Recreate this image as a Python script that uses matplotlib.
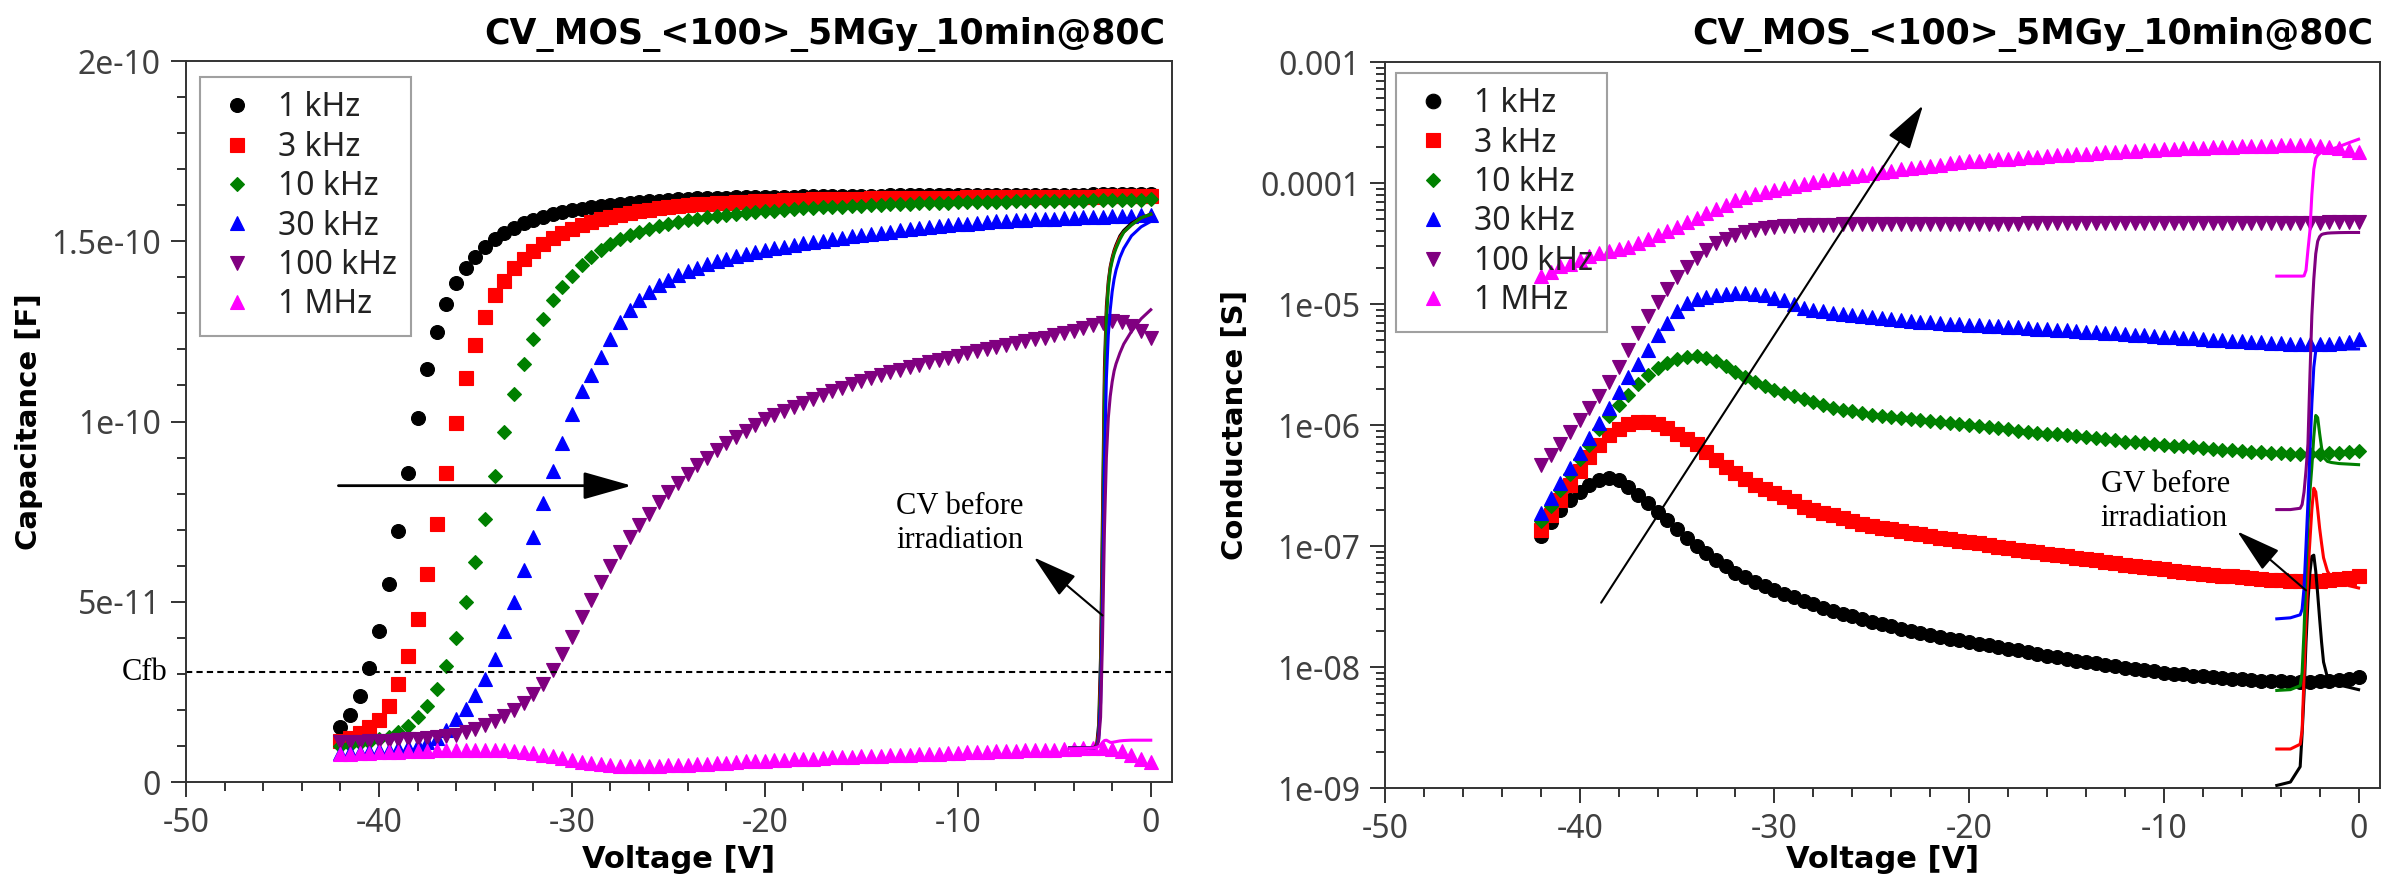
import numpy as np
import matplotlib
matplotlib.use('Agg')
from matplotlib import pyplot as plt
from matplotlib.ticker import MultipleLocator, FuncFormatter, LogLocator, NullFormatter
import matplotlib.transforms as mtransforms

plt.rcParams['axes.unicode_minus'] = False
plt.rcParams['font.family'] = ['Noto Sans', 'DejaVu Sans']

# gate voltage sweep after irradiation (0.5 V steps)
volt = np.arange(-42.0, 0.01, 0.5)
# sweep of the reference curves measured before irradiation
volt_ref = [-4.2, -3.5, -3.0, -2.9, -2.8, -2.7, -2.6, -2.5, -2.4, -2.3,
            -2.2, -2.1, -2.0, -1.9, -1.8, -1.6, -1.4, -1.0, -0.5, 0.0]

freqs = ['1 kHz', '3 kHz', '10 kHz', '30 kHz', '100 kHz', '1 MHz']
colors = ['black', 'red', 'green', 'blue', 'purple', 'magenta']
markers = ['o', 's', 'D', '^', 'v', '^']

title = 'CV_MOS_<100>_5MGy_10min@80C'

# capacitance after irradiation [pF]
cap_1k = [15.2, 18.5, 23.9, 31.5, 41.9, 54.8, 69.7, 85.8, 101.1, 114.5,
          124.8, 132.6, 138.4, 142.5, 145.7, 148.5, 150.7, 152.4, 153.8, 155.0,
          156.0, 156.8, 157.5, 158.1, 158.6, 159.0, 159.4, 159.8, 160.1, 160.4,
          160.7, 160.9, 161.1, 161.3, 161.5, 161.6, 161.8, 161.9, 162.0, 162.1,
          162.1, 162.2, 162.2, 162.3, 162.3, 162.4, 162.4, 162.4, 162.5, 162.5,
          162.5, 162.5, 162.6, 162.6, 162.6, 162.6, 162.6, 162.7, 162.7, 162.7,
          162.7, 162.7, 162.7, 162.7, 162.8, 162.8, 162.8, 162.8, 162.8, 162.8,
          162.8, 162.8, 162.9, 162.9, 162.9, 162.9, 162.9, 162.9, 163.0, 163.0,
          163.0, 163.0, 163.1, 163.1, 163.2]
cap_3k = [11.4, 12.2, 13.6, 15.2, 17.2, 21.2, 27.1, 35.0, 45.2, 57.8,
          71.5, 85.8, 99.5, 112.0, 121.3, 129.1, 135.0, 139.1, 142.5, 145.1,
          147.4, 149.3, 150.9, 152.2, 153.4, 154.4, 155.3, 156.1, 156.8, 157.4,
          157.9, 158.4, 158.8, 159.2, 159.5, 159.8, 160.0, 160.2, 160.4, 160.6,
          160.7, 160.9, 161.0, 161.1, 161.2, 161.3, 161.4, 161.5, 161.5, 161.6,
          161.6, 161.7, 161.7, 161.8, 161.8, 161.9, 161.9, 161.9, 162.0, 162.0,
          162.0, 162.1, 162.1, 162.1, 162.1, 162.2, 162.2, 162.2, 162.2, 162.3,
          162.3, 162.3, 162.3, 162.3, 162.4, 162.4, 162.4, 162.4, 162.4, 162.5,
          162.5, 162.5, 162.5, 162.6, 162.6]
cap_10k = [10.0, 10.3, 10.7, 11.2, 11.8, 12.6, 13.8, 15.6, 18.0, 21.0,
           25.8, 32.2, 40.0, 49.8, 61.0, 73.0, 85.0, 97.0, 107.5, 116.0,
           123.0, 128.5, 133.7, 137.4, 140.5, 143.3, 145.6, 147.6, 149.2, 150.6,
           151.6, 152.6, 153.4, 154.1, 154.7, 155.3, 155.8, 156.2, 156.6, 157.0,
           157.3, 157.6, 157.9, 158.1, 158.3, 158.5, 158.7, 158.9, 159.1, 159.2,
           159.4, 159.5, 159.6, 159.8, 159.9, 160.0, 160.1, 160.2, 160.3, 160.4,
           160.5, 160.5, 160.6, 160.7, 160.8, 160.8, 160.9, 160.9, 161.0, 161.0,
           161.1, 161.1, 161.2, 161.2, 161.2, 161.3, 161.3, 161.3, 161.4, 161.4,
           161.4, 161.5, 161.5, 161.5, 161.6]
cap_30k = [8.0, 8.2, 8.4, 8.6, 8.8, 9.0, 9.3, 9.7, 10.2, 11.0,
           12.2, 14.5, 17.5, 20.2, 24.2, 28.7, 34.2, 42.0, 50.0, 58.8,
           68.0, 77.5, 86.2, 94.0, 102.0, 108.5, 113.0, 117.8, 122.8, 127.5,
           130.8, 133.8, 136.0, 137.8, 139.3, 140.6, 141.7, 142.7, 143.6, 144.4,
           145.2, 145.8, 146.4, 147.0, 147.5, 148.0, 148.5, 149.0, 149.4, 149.8,
           150.2, 150.6, 151.0, 151.4, 151.8, 152.1, 152.4, 152.7, 153.0, 153.3,
           153.6, 153.9, 154.2, 154.5, 154.7, 154.9, 155.1, 155.3, 155.5, 155.7,
           155.9, 156.0, 156.1, 156.2, 156.3, 156.4, 156.5, 156.6, 156.7, 156.8,
           156.9, 157.0, 157.1, 157.2, 157.3]
cap_100k = [11.0, 11.1, 11.2, 11.3, 11.4, 11.5, 11.6, 11.8, 12.0, 12.2,
            12.4, 12.7, 13.1, 13.8, 14.8, 15.8, 16.8, 18.2, 20.0, 22.0,
            24.4, 27.3, 31.2, 35.6, 40.2, 45.7, 50.5, 55.4, 59.8, 63.9,
            68.0, 71.4, 74.4, 77.7, 80.5, 82.9, 85.5, 87.8, 90.0, 92.0,
            93.9, 95.7, 97.4, 99.0, 100.6, 101.8, 103.0, 104.1, 105.2, 106.3,
            107.4, 108.4, 109.4, 110.3, 111.2, 112.0, 112.8, 113.6, 114.4, 115.1,
            115.8, 116.5, 117.1, 117.7, 118.3, 118.9, 119.5, 120.1, 120.6, 121.2,
            121.7, 122.3, 122.8, 123.3, 123.9, 124.5, 125.2, 125.9, 126.7, 127.4,
            127.8, 127.6, 126.5, 125.0, 123.3]
cap_1M = [7.8, 7.9, 8.0, 8.1, 8.2, 8.3, 8.4, 8.5, 8.6, 8.7,
          8.8, 8.9, 9.0, 9.0, 9.0, 9.0, 8.9, 8.8, 8.6, 8.3,
          8.0, 7.6, 7.1, 6.6, 6.1, 5.6, 5.2, 4.9, 4.6, 4.5,
          4.4, 4.4, 4.4, 4.5, 4.6, 4.7, 4.8, 5.0, 5.1, 5.3,
          5.4, 5.5, 5.7, 5.8, 5.9, 6.0, 6.2, 6.3, 6.4, 6.5,
          6.7, 6.8, 6.9, 7.0, 7.1, 7.2, 7.3, 7.4, 7.5, 7.6,
          7.7, 7.8, 7.9, 8.0, 8.1, 8.2, 8.3, 8.4, 8.5, 8.6,
          8.7, 8.8, 8.9, 9.0, 9.0, 9.1, 9.2, 9.3, 9.4, 9.5,
          9.2, 8.6, 7.6, 6.5, 5.6]

# capacitance before irradiation [pF]
capref_1k = [9.4, 9.4, 9.5, 9.7, 10.5, 16, 35, 75, 115, 132,
             139, 143, 145.5, 147.5, 149, 151.5, 153, 155, 156.5, 157.5]
capref_3k = [9.4, 9.4, 9.5, 9.6, 10.2, 14, 30, 68, 110, 130,
             138, 142.5, 145, 147, 148.5, 151, 152.5, 154.5, 156.5, 157.5]
capref_10k = [9.4, 9.4, 9.5, 9.6, 10.0, 13, 27, 62, 105, 128,
              137, 142, 144.5, 146.5, 148, 150.5, 152.5, 154.5, 156.5, 157.5]
capref_30k = [9.4, 9.4, 9.4, 9.5, 9.8, 12, 22, 50, 88, 112,
              124, 131, 136, 139.5, 142, 145.5, 148, 151.5, 154, 155.5]
capref_100k = [9.4, 9.4, 9.4, 9.5, 9.7, 11.5, 18, 40, 70, 90,
               101, 107, 111, 114, 116, 119, 121.5, 125, 128.5, 131]
capref_1M = [9.2, 9.3, 9.4, 9.5, 9.6, 9.8, 10.3, 11.0, 11.5, 11.6,
             11.3, 11.0, 11.0, 11.1, 11.2, 11.4, 11.5, 11.6, 11.6, 11.6]

# conductance after irradiation [nS]
g_1k = [122, 157, 199, 241, 280, 318, 348, 362, 350, 310,
        265, 225, 192, 163, 138, 117, 100, 88, 76, 68,
        60, 55, 50, 46.8, 43.5, 40.5, 37.8, 35.3, 33.0, 30.8,
        29.3, 27.6, 26.3, 25.0, 23.7, 22.7, 21.7, 20.8, 20.0, 19.2,
        18.5, 17.8, 17.2, 16.6, 16.1, 15.6, 15.1, 14.6, 14.1, 13.7,
        13.2, 12.8, 12.4, 12.0, 11.7, 11.3, 11.0, 10.7, 10.4, 10.1,
        9.8, 9.6, 9.4, 9.2, 9.0, 8.8, 8.7, 8.5, 8.4, 8.2,
        8.1, 8.0, 7.9, 7.8, 7.7, 7.6, 7.6, 7.5, 7.5, 7.5,
        7.6, 7.6, 7.8, 8.0, 8.3]
g_3k = [136, 180, 240, 320, 420, 540, 680, 820, 930, 1010,
        1060, 1065, 1020, 940, 850, 770, 700, 600, 510, 450,
        400, 360, 320, 295, 272, 252, 235, 212, 200, 189,
        179, 169, 160, 153, 147, 142, 137, 133, 129, 125,
        121, 117, 114, 111, 108, 105, 102, 99, 96, 93.5,
        91, 88.5, 86, 84, 82, 80, 78, 76, 74, 72,
        70, 68.5, 67, 65.5, 64, 62.5, 61, 60, 59, 58,
        57, 56, 55, 54, 53, 52.5, 52, 51.5, 51, 51,
        51.5, 52, 53, 54.5, 56]
g_10k = [160, 215, 290, 390, 520, 690, 920, 1180, 1450, 1780,
         2180, 2580, 2950, 3280, 3520, 3660, 3690, 3580, 3350, 3050,
         2750, 2480, 2270, 2100, 1960, 1840, 1730, 1630, 1540, 1460,
         1390, 1340, 1295, 1255, 1220, 1190, 1160, 1140, 1120, 1100,
         1080, 1060, 1040, 1020, 1000, 980, 960, 940, 920, 900,
         880, 865, 850, 835, 820, 805, 790, 775, 760, 745,
         730, 718, 706, 695, 685, 675, 665, 655, 645, 636,
         627, 618, 610, 602, 595, 590, 585, 580, 578, 576,
         578, 582, 590, 600, 615]
g_30k = [186, 250, 330, 440, 590, 780, 1040, 1390, 1870, 2500,
         3200, 4200, 5500, 7000, 8700, 10200, 11000, 11500, 11900, 12100,
         12250, 12300, 12200, 11900, 11300, 10700, 10000, 9300, 9000, 8750,
         8500, 8250, 8100, 7900, 7750, 7600, 7450, 7350, 7250, 7150,
         7060, 6980, 6900, 6830, 6760, 6690, 6620, 6550, 6480, 6410,
         6340, 6270, 6200, 6130, 6060, 5990, 5920, 5850, 5780, 5710,
         5640, 5570, 5500, 5440, 5380, 5320, 5260, 5200, 5140, 5080,
         5020, 4970, 4920, 4870, 4820, 4780, 4740, 4700, 4670, 4650,
         4650, 4680, 4750, 4880, 5100]
g_100k = [470, 570, 700, 870, 1100, 1380, 1750, 2250, 3000, 4200,
          5800, 7900, 10400, 13400, 16800, 20200, 24000, 28200, 31800, 34600,
          37400, 39300, 40900, 42100, 43200, 43900, 44400, 44800, 45000, 45200,
          45300, 45400, 45500, 45600, 45600, 45700, 45700, 45800, 45800, 45900,
          45900, 46000, 46000, 46000, 46100, 46100, 46100, 46200, 46200, 46200,
          46300, 46300, 46300, 46300, 46400, 46400, 46400, 46400, 46500, 46500,
          46500, 46500, 46600, 46600, 46600, 46600, 46700, 46700, 46700, 46700,
          46800, 46800, 46800, 46800, 46900, 46900, 46900, 47000, 47000, 47000,
          47100, 47200, 47300, 47500, 47800]
g_1M = [16900, 18500, 20500, 21500, 23200, 24800, 26300, 27500, 28500, 29800,
        31800, 34300, 37000, 40500, 43500, 47500, 51500, 56000, 61000, 66000,
        72000, 76500, 81000, 84500, 87500, 91000, 94500, 98500, 102000, 105000,
        108000, 111000, 114000, 117000, 120000, 123000, 126000, 130000, 133000, 136000,
        139000, 142000, 145000, 148000, 151000, 153000, 155000, 157000, 159000, 161000,
        163000, 165000, 167000, 169000, 171000, 173000, 175000, 177000, 179000, 181000,
        183000, 185000, 187000, 188500, 190000, 191500, 193000, 194500, 196000, 197500,
        199000, 200000, 201000, 202000, 203000, 204000, 204500, 205000, 205000, 204500,
        203000, 200000, 195000, 188000, 180000]

# conductance before irradiation [nS]
gref_1k = [1.05, 1.12, 1.5, 2.8, 6.0, 16, 35, 60, 82, 84,
           62, 40, 25, 16, 11, 8.2, 7.4, 7.1, 6.8, 6.5]
gref_3k = [2.1, 2.1, 2.3, 3.0, 8.5, 25, 60, 110, 200, 300,
           280, 200, 140, 105, 80, 62, 55, 50, 47, 45]
gref_10k = [6.4, 6.5, 7.0, 9.0, 20, 60, 150, 280, 450, 800,
            1200, 1150, 850, 650, 540, 500, 490, 480, 475, 470]
gref_30k = [25, 25.5, 27, 30, 45, 100, 230, 600, 1500, 3000,
            4100, 4300, 4300, 4300, 4300, 4300, 4300, 4250, 4250, 4250]
gref_100k = [200, 200, 205, 220, 280, 420, 700, 2500, 8000, 16000,
             26000, 33000, 36000, 37500, 38000, 38500, 38700, 38900, 39000, 39000]
gref_1M = [17000, 17000, 17000, 17000, 17100, 19000, 28000, 40000, 80000, 130000,
           160000, 170000, 175000, 180000, 182000, 185000, 190000, 200000, 215000, 230000]

cap_after = [cap_1k, cap_3k, cap_10k, cap_30k, cap_100k, cap_1M]
cap_before = [capref_1k, capref_3k, capref_10k, capref_30k, capref_100k, capref_1M]
g_after = [g_1k, g_3k, g_10k, g_30k, g_100k, g_1M]
g_before = [gref_1k, gref_3k, gref_10k, gref_30k, gref_100k, gref_1M]

c_fb = 30.4  # flat band capacitance [pF]

spine_col = '#333333'
tick_col = '#404040'
bold_font = 'DejaVu Sans'
serif_font = 'Liberation Serif'


def style_axes(ax):
    ax.set_xlim(-50, 1.1)
    ax.xaxis.set_major_locator(MultipleLocator(10))
    ax.xaxis.set_minor_locator(MultipleLocator(2))
    ax.xaxis.set_major_formatter(FuncFormatter(lambda v, p: '%g' % (v + 0.0)))
    ax.tick_params(which='both', direction='out', top=False, right=False,
                   color=spine_col, width=1.4, labelsize=23,
                   labelcolor=tick_col, pad=7)
    ax.tick_params(which='major', length=11)
    ax.tick_params(which='minor', length=6.5)
    for s in ax.spines.values():
        s.set_linewidth(1.4)
        s.set_color(spine_col)


def make_legend(ax, x0, y1, mscale):
    leg = ax.legend(loc='upper left', bbox_to_anchor=(x0, y1), borderaxespad=0,
                    frameon=True, fancybox=False, edgecolor='#888888',
                    facecolor='none', fontsize=23, borderpad=0.45,
                    handlelength=1.44, handletextpad=0.55, labelspacing=0.2,
                    markerscale=mscale)
    leg.get_frame().set_linewidth(1.5)
    for t in leg.get_texts():
        t.set_color('#222222')
    return leg


fig = plt.figure(figsize=(23.94, 8.77), dpi=100)
ax1 = fig.add_axes([0.07769, 0.10832, 0.41186, 0.82212])
ax2 = fig.add_axes([0.57853, 0.10148, 0.41562, 0.82782])

# ---- C-V ----
for c, col, mk, lab in zip(cap_after, colors, markers, freqs):
    ms = 7.2 if mk == 'D' else 10
    ax1.plot(volt, np.array(c) * 1e-12, ls='none', marker=mk, ms=ms,
             color=col, mew=0.8, mec=col, label=lab)
for c, col in zip(cap_before, colors):
    ax1.plot(volt_ref, np.array(c) * 1e-12, color=col, lw=2.2)

ax1.axhline(c_fb * 1e-12, color='black', lw=1.5, ls=(0, (3, 2)))
trans = mtransforms.blended_transform_factory(ax1.transAxes, ax1.transData)
ax1.text(-0.019, c_fb * 1e-12, 'Cfb', transform=trans, ha='right', va='center',
         fontsize=22, family=serif_font)

style_axes(ax1)
ax1.set_ylim(0, 2e-10)
ax1.yaxis.set_major_locator(MultipleLocator(5e-11))
ax1.yaxis.set_minor_locator(MultipleLocator(1e-11))
ax1.yaxis.set_major_formatter(FuncFormatter(lambda v, p: '%g' % v))

ax1.annotate('', xy=(-26.9, 82.2e-12), xytext=(-42.1, 82.2e-12),
             arrowprops=dict(arrowstyle='-|>,head_length=3.0,head_width=0.85',
                             lw=2, color='black', shrinkA=0, shrinkB=0))
ax1.text(-13.2, 71.7e-12, 'CV before\nirradiation', ha='left', va='center',
         fontsize=22, family=serif_font)
ax1.annotate('', xy=(-6.06, 62.3e-12), xytext=(-2.5, 46.2e-12),
             arrowprops=dict(arrowstyle='-|>,head_length=2.8,head_width=0.8',
                             lw=1.5, color='black', shrinkA=0, shrinkB=0))

ax1.set_xlabel('Voltage [V]', fontsize=22, fontweight='bold', family=bold_font)
ax1.set_ylabel('Capacitance [F]', fontsize=21, fontweight='bold', family=bold_font)
ax1.xaxis.set_label_coords(0.5, -0.087)
ax1.yaxis.set_label_coords(-0.145, 0.5)
make_legend(ax1, 0.0142, 0.9778, 1.0)

# ---- G-V ----
for g, col, mk, lab in zip(g_after, colors, markers, freqs):
    ms = 7.2 if mk == 'D' else 10
    ax2.plot(volt, np.array(g) * 1e-9, ls='none', marker=mk, ms=ms,
             color=col, mew=0.8, mec=col, label=lab)
for g, col in zip(g_before, colors):
    ax2.plot(volt_ref, np.array(g) * 1e-9, color=col, lw=2.2)

style_axes(ax2)
ax2.set_yscale('log')
ax2.set_ylim(1e-9, 1e-3)
ax2.yaxis.set_major_locator(LogLocator(base=10))
ax2.yaxis.set_minor_locator(LogLocator(base=10, subs=np.arange(2, 10)))
ax2.yaxis.set_minor_formatter(NullFormatter())
ax2.yaxis.set_major_formatter(FuncFormatter(lambda v, p: '%g' % v))
ax2.tick_params(which='both', direction='out', top=False, right=False)

ax2.annotate('', xy=(-22.37, 4.38e-4), xytext=(-38.9, 3.4e-8),
             arrowprops=dict(arrowstyle='-|>,head_length=2.8,head_width=0.8',
                             lw=1.5, color='black', shrinkA=0, shrinkB=0))
ax2.text(-13.24, 2.34e-7, 'GV before\nirradiation', ha='left', va='center',
         fontsize=22, family=serif_font)
ax2.annotate('', xy=(-6.23, 1.32e-7), xytext=(-2.7, 4.3e-8),
             arrowprops=dict(arrowstyle='-|>,head_length=2.8,head_width=0.8',
                             lw=1.5, color='black', shrinkA=0, shrinkB=0))

ax2.set_xlabel('Voltage [V]', fontsize=22, fontweight='bold', family=bold_font)
ax2.set_ylabel('Conductance [S]', fontsize=21, fontweight='bold', family=bold_font)
ax2.xaxis.set_label_coords(0.5, -0.079)
ax2.yaxis.set_label_coords(-0.137, 0.5)
make_legend(ax2, 0.011, 0.985, 1.05)

# titles, right-aligned just inside each frame
fig.text(1165 / 2394, 0.9498, title, ha='right', va='baseline',
         fontsize=25, fontweight='bold', family=bold_font)
fig.text(2373 / 2394, 0.9498, title, ha='right', va='baseline',
         fontsize=25, fontweight='bold', family=bold_font)

fig.savefig('out.png', dpi=100)
